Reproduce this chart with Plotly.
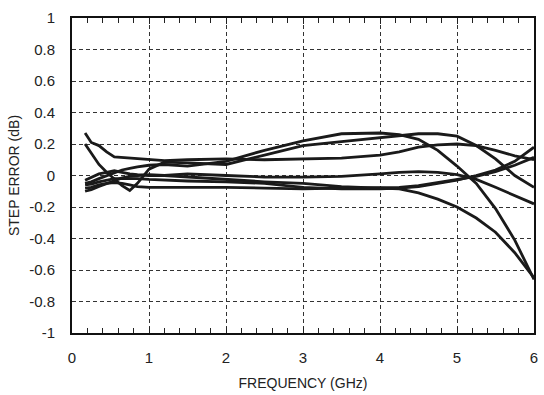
import plotly.graph_objects as go

freq_ghz = [0.17, 0.25, 0.35, 0.45, 0.55, 0.65, 0.75, 0.85, 1.0, 1.2, 1.5, 2.0, 2.5,
            3.0, 3.5, 4.0, 4.25, 4.5, 4.75, 5.0, 5.25, 5.5, 5.75, 6.0]

err_c1 = [-0.05, -0.04, -0.02, 0.0, 0.02, 0.035, 0.045, 0.055, 0.065, 0.07, 0.06, 0.09, 0.16,
          0.22, 0.265, 0.27, 0.26, 0.23, 0.16, 0.06, -0.05, -0.21, -0.41, -0.66]
err_c2 = [0.2, 0.14, 0.07, 0.02, -0.02, -0.065, -0.095, -0.05, 0.04, 0.085, 0.08, 0.07, 0.13,
          0.19, 0.215, 0.24, 0.255, 0.265, 0.265, 0.25, 0.19, 0.105, 0.0, -0.075]
err_c3 = [0.27, 0.21, 0.19, 0.15, 0.118, 0.115, 0.11, 0.105, 0.1, 0.095, 0.1, 0.105, 0.1,
          0.105, 0.11, 0.13, 0.15, 0.18, 0.195, 0.2, 0.19, 0.16, 0.125, 0.1]
err_c4 = [-0.03, -0.01, 0.01, 0.02, 0.03, 0.02, 0.01, 0.005, 0.0, 0.0, 0.01, 0.0, -0.01,
          -0.01, -0.005, 0.01, 0.02, 0.025, 0.02, 0.005, -0.025, -0.075, -0.13, -0.18]
err_c5 = [-0.06, -0.055, -0.04, -0.03, -0.02, -0.02, -0.02, -0.02, -0.025, -0.03, -0.035, -0.04, -0.05,
          -0.075, -0.085, -0.085, -0.08, -0.07, -0.05, -0.03, 0.0, 0.035, 0.09, 0.18]
err_c6 = [-0.08, -0.075, -0.06, -0.05, -0.045, -0.05, -0.06, -0.07, -0.075, -0.075, -0.075, -0.075, -0.08,
          -0.085, -0.08, -0.075, -0.075, -0.065, -0.045, -0.025, -0.005, 0.025, 0.065, 0.115]
err_c7 = [-0.1, -0.09, -0.07, -0.05, -0.03, -0.015, -0.005, 0.0, 0.005, 0.0, -0.01, -0.025, -0.04,
          -0.05, -0.07, -0.08, -0.085, -0.11, -0.15, -0.2, -0.27, -0.36, -0.49, -0.65]

x_ticks = [0, 1, 2, 3, 4, 5, 6]
y_ticks = [1, 0.8, 0.6, 0.4, 0.2, 0, -0.2, -0.4, -0.6, -0.8, -1]
y_tick_text = ["1", "0.8", "0.6", "0.4", "0.2", "0", "-0.2", "-0.4", "-0.6", "-0.8", "-1"]

fig = go.Figure()
for ys in [err_c1, err_c2, err_c3, err_c4, err_c5, err_c6, err_c7]:
    fig.add_trace(go.Scatter(x=freq_ghz, y=ys, mode="lines",
                             line=dict(color="#1a1a1a", width=2.8),
                             showlegend=False, hoverinfo="skip"))

font_family = "Liberation Sans, Arial, sans-serif"
fig.update_layout(
    width=544, height=395,
    margin=dict(l=72, r=6, t=18, b=59),
    paper_bgcolor="white", plot_bgcolor="white",
    font=dict(family=font_family, size=14, color="#222"),
    xaxis=dict(
        range=[0, 6], tickvals=x_ticks, ticks="inside", ticklen=6, tickcolor="#222",
        showline=True, linecolor="#111", linewidth=2, mirror="ticks",
        showgrid=True, gridcolor="#333", griddash="4px,3px", gridwidth=1,
        zeroline=False, ticklabelstandoff=10,
        minor=dict(dtick=0.2, ticks="inside", ticklen=5, tickcolor="#222", showgrid=False),
        title=dict(text="FREQUENCY (GHz)", font=dict(size=14), standoff=13),
        tickfont=dict(size=15),
    ),
    yaxis=dict(
        range=[-1, 1], tickvals=y_ticks, ticktext=y_tick_text, ticks="",
        showline=True, linecolor="#111", linewidth=2, mirror=True,
        showgrid=True, gridcolor="#333", griddash="4px,3px", gridwidth=1,
        zeroline=False, ticklabelstandoff=12,
        title=dict(text="STEP ERROR (dB)", font=dict(size=14), standoff=6),
        tickfont=dict(size=15),
    ),
)

fig.write_html("out.html")
